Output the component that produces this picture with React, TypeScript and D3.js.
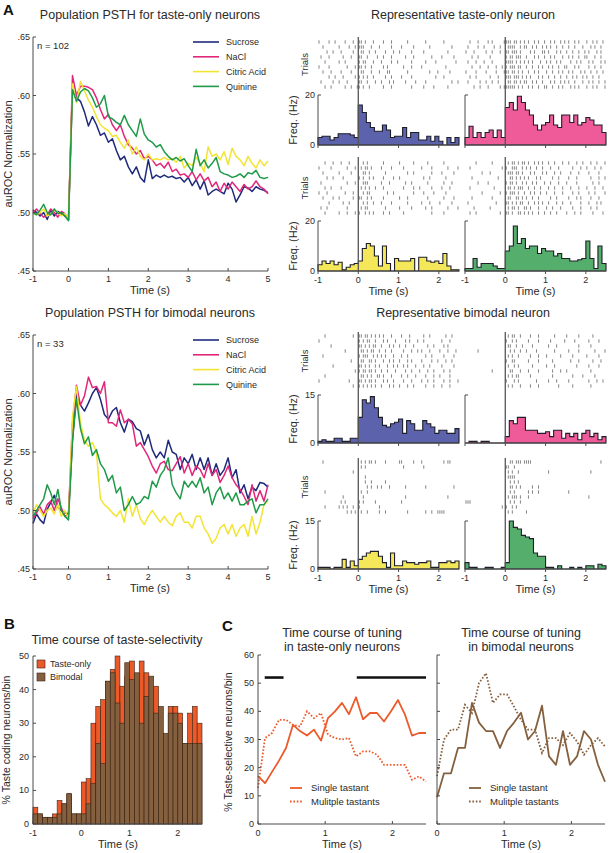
import React from 'react';
import * as d3 from 'd3';

const FONT = '"Liberation Sans", Arial, Helvetica, sans-serif';
const INK = '#2a2a2a';
const AXIS = '#4a4a4a';

// ---------------- Panel A: population PSTH (auROC), time -1..5 s, 0.1 s steps ----------------
const psthTimes = d3.range(61).map((i) => Math.round((-1 + i * 0.1) * 10) / 10);
const tastantNames = ['Sucrose', 'NaCl', 'Citric Acid', 'Quinine'];
const lineColors = ['#1F2A7C', '#E2277B', '#F2E432', '#1E9A48'];
const fillColors = ['#5C63AC', '#EE5B98', '#F4E85A', '#55AE6C'];

const tasteOnlySucrose = [
  .502, .500, .497, .500, .494, .502, .497, .501, .499, .497, .494,
  .606, .598, .595, .586, .574, .582, .575, .566, .568, .560,
  .563, .553, .545, .548, .539, .533, .539, .530, .526, .545,
  .529, .532, .530, .532, .530, .531, .529, .530, .526, .530,
  .523, .528, .520, .527, .515, .518, .520, .518, .516, .525,
  .520, .509, .515, .522, .521, .518, .522, .520, .519, .517];
const tasteOnlyNaCl = [
  .500, .503, .499, .496, .498, .503, .500, .496, .501, .499, .494,
  .617, .600, .608, .608, .607, .605, .598, .588, .580, .584,
  .575, .570, .575, .565, .558, .555, .550, .553, .546, .548,
  .545, .540, .542, .538, .543, .535, .537, .532, .533, .530,
  .535, .528, .533, .527, .530, .522, .526, .518, .525, .520,
  .526, .522, .518, .524, .520, .522, .527, .522, .520, .516];
const tasteOnlyCitric = [
  .499, .498, .500, .503, .497, .499, .502, .500, .497, .499, .495,
  .610, .594, .612, .604, .596, .590, .582, .575, .572, .570,
  .565, .566, .560, .555, .562, .550, .556, .548, .545, .550,
  .545, .546, .545, .547, .545, .546, .543, .548, .538, .542,
  .540, .547, .542, .535, .556, .548, .550, .545, .552, .541,
  .555, .548, .545, .540, .548, .542, .538, .545, .540, .544];
const tasteOnlyQuinine = [
  .500, .498, .502, .507, .500, .498, .503, .499, .500, .497, .493,
  .605, .595, .603, .606, .604, .598, .590, .593, .600, .582,
  .580, .577, .575, .583, .575, .570, .565, .580, .567, .562,
  .560, .556, .558, .552, .548, .545, .547, .544, .546, .540,
  .535, .554, .540, .545, .538, .542, .547, .535, .533, .532,
  .530, .531, .533, .530, .534, .533, .536, .530, .529, .530];

const bimodalSucrose = [
  .489, .497, .492, .489, .501, .507, .513, .503, .500, .498, .497,
  .560, .600, .590, .585, .592, .600, .605, .595, .582, .578,
  .585, .588, .575, .567, .578, .576, .570, .568, .556, .565,
  .552, .545, .550, .545, .560, .550, .548, .535, .545, .540,
  .548, .535, .545, .535, .545, .530, .540, .530, .535, .545,
  .528, .535, .515, .522, .510, .520, .517, .524, .523, .520];
const bimodalNaCl = [
  .493, .498, .503, .497, .505, .508, .500, .510, .502, .495, .497,
  .575, .607, .590, .598, .614, .605, .606, .600, .610, .575,
  .575, .572, .586, .575, .578, .574, .555, .558, .552, .546,
  .538, .532, .540, .542, .535, .534, .540, .546, .532, .540,
  .530, .538, .535, .528, .540, .530, .535, .524, .530, .538,
  .528, .522, .518, .512, .505, .522, .508, .517, .508, .522];
const bimodalCitric = [
  .498, .505, .500, .495, .500, .502, .497, .505, .495, .500, .493,
  .580, .606, .575, .560, .555, .558, .550, .510, .505, .502,
  .498, .495, .500, .490, .510, .495, .505, .493, .488, .495,
  .500, .495, .490, .495, .490, .487, .495, .498, .490, .490,
  .485, .495, .495, .485, .480, .472, .476, .485, .488, .480,
  .488, .478, .485, .488, .478, .495, .480, .490, .505, .508];
const bimodalQuinine = [
  .495, .500, .505, .510, .522, .515, .505, .518, .500, .495, .492,
  .560, .595, .570, .557, .563, .547, .552, .540, .535, .525,
  .530, .515, .520, .500, .505, .512, .505, .507, .512, .510,
  .525, .520, .530, .535, .545, .522, .515, .510, .525, .520,
  .525, .520, .528, .515, .520, .505, .515, .520, .510, .515,
  .508, .515, .505, .505, .508, .510, .498, .505, .505, .510];

// ---------------- Representative neurons: histograms (Hz), 0.1 s bins from -1 to 2.5 ----------------
const histEdges = d3.range(36).map((i) => Math.round((-1 + i * 0.1) * 10) / 10);
const tasteOnlyHistSucrose = [3, 3.5, 3.5, 2, 3, 4.5, 4.5, 4.5, 4, 3, 16, 13, 9, 7, 5.5, 5.5, 8, 6, 3, 3.5, 3.5, 7, 3, 5, 5, 2, 2, 3.5, 1.5, 3.5, 1.5, 0, 3, 1, 3];
const tasteOnlyHistNaCl = [3, 7.5, 3, 5, 3, 5, 6, 3, 6, 3, 15, 17, 14, 19.5, 17, 14, 12, 8, 6, 8, 9, 12, 8, 7, 12, 12, 9, 12, 8, 9, 11, 10, 8, 8, 5];
const tasteOnlyHistCitric = [2.5, 4, 3, 4, 2.5, 3.5, 0.5, 1.5, 2.5, 3, 4, 9, 11, 10, 6, 2, 10, 3, 0, 5, 4, 4, 4, 5, 0, 5.5, 5.5, 4, 3.5, 4, 3, 7, 2, 0.5, 0.5];
const tasteOnlyHistQuinine = [1, 1, 5, 1.5, 3, 3, 3, 2, 1, 1, 8, 10, 18, 11, 13, 9, 10, 10, 7, 9, 8, 8, 6, 7, 5, 5, 4, 4, 4.5, 5, 12, 5, 1, 10, 3];
const bimodalHistSucrose = [0.5, 1, 0.5, 0.5, 1.5, 1.5, 0.5, 0.5, 1.5, 1.5, 8, 13.5, 12.5, 14.5, 11, 8, 5.5, 5, 6, 6.5, 7.5, 3, 7, 6, 4, 4, 7, 6, 5, 3, 4, 4, 3, 3, 4.5];
const bimodalHistNaCl = [0, 0.5, 0.5, 0, 0.5, 0.5, 0, 0, 0, 0, 2, 7, 6, 8, 8, 4, 4, 4, 3, 3, 3.5, 2, 4, 4, 1.5, 3, 2, 3, 1, 3, 4, 2, 3, 1, 2];
const bimodalHistCitric = [0.5, 0.5, 0.5, 0, 0.5, 0.5, 3, 0.5, 2.5, 1, 3, 4, 5, 5.5, 5.5, 4, 2, 0.5, 5, 1, 1, 2.5, 2, 2, 1.5, 2, 2, 2.5, 0.5, 0.5, 2, 2, 2.5, 2, 2.5];
const bimodalHistQuinine = [2, 0.5, 0.5, 0, 0, 0.5, 0.5, 0, 0, 0.5, 2, 15, 13, 12.5, 10.5, 10, 9.5, 5, 4, 4, 0.5, 0.5, 0, 1, 0, 0, 0.5, 0, 0.5, 0, 1, 1, 0, 1.5, 1];

// Raster trials: one character per 50 ms from -1 to 2.5 s ('|' = spike)
const rasterTasteSucrose = [
  '|....|..|. ...|...|.. ||.|...|.. ..|...|... ....|..... ...|...... ..|.......',
  '..|....... |....|..|. |||...|... |.....|... .|.....|.. .....|.... ......|...',
  '....|..|.. .|.....|.. .||..|..|. ...|...|.. |.....|... ..|....... ....|.....',
  '.|...|.... ..|...|... ||..|....| ..|...|... ...|...|.. ......|... .|.....|..',
  '...|...... |..|...... |.||...|.. .|....|..| ......|... ...|....|. ........|.',
  '|....|.... ....|...|. ||.|..|... ..|.|..... ..|...|... .|........ ...|......',
  '..|...|... .|....|... .||...|... |...||.... ....|..... .....|...| .....|....',
  '.....|..|. ..|.....|. |.|.|..|.. ...|..|... .|....|... ........|. ..|.......',
  '.|.....|.. |...|..... ||..|...|. .|...|.|.. ...|....|. ...|...... ......|..|',
  '...|..|... ...|..|..| |.|..|.... ..|...|... ......|... ..|....|.. ....|.....',
];
const rasterTasteNaCl = [
  '..|...|... .|.|.....| |||.||.|.| .|..|.|..| ..|.|..|.| .|..|.|... |..|.|..|.',
  '.|....|..| ....|..|.. .||||..|.| |..|.|..|. |.|..|..|. .|..|...|. ..|.|..|..',
  '|...|..... |..|...|.. ||.|||.|.. ..|.|...|| .|...|.|.. |..|..|..| .|...|.|..',
  '...|..|... ..|....... |.||.|||.. |...|.|..| ..|.|...|. .|.|..|..| |...|..|..',
  '.|...|...| ...|...... ||||.|.|.| .|.|...|.. |.|..|.|.. ..|..|.|.. .|.|...|.|',
  '...|...|.. .|...|..|. |.|||.||.. |..|..|.|. .|.|..|..| |...|.|... .|..|..|..',
  '|....|.... |....|...| ||.||.|.|. .|..|.|... |..|..|.|. .|.|...|.| ..|..|..|.',
  '..|..|.... ..|...|... |||.|||.|. |.|...|.|. .|..|..|.. |..|.|..|. |..|..|...',
  '.|.....|.. |..|..|... .||.||.|.| |..|.|..|. ..|.|..|.| .|..|...|. .|.|..|..|',
  '....|..|.. .|.....|.| |||||.|.|. .|.|..|..| |..|..|.|. ..|.|.|... |..|.|...|',
];
const rasterTasteCitric = [
  '...|...|.. .|...|.... ..|.|..... ..|....... |......|.. ....|..... ..|.......',
  '|.....|... ....|...|. .|.||.|... .|....|... ..|....... .|....|... ....|....|',
  '..|....... |.....|... ..||.|.... ...|...... ....|..|.. ......|... .|.....|..',
  '....|..|.. ..|....... |.|..|.|.. ..|....|.. |......... ..|..|.... ...|......',
  '.|........ ....|...|. ..|||..... .|...|.... ...|..|... ....|..... ..|...|...',
  '...|..|... .|........ .|.|.|..|. ..|....... ..|....|.. |.....|... .|...|....',
  '|...|..... ...|...|.. ..|.||.... ....|..|.. .......|.. ..|....|.. ...|......',
  '..|....|.. |......|.. ||..|.|... ..|....... |...|..... ....|..... ..|....|..',
  '.....|.... ..|..|.... ..|.|..|.. .|....|... ....|..... .|...|.... |.....|...',
  '.|..|..... ....|..... .|.||..... ...|...... |.....|... ...|..|... ....|....|',
  '...|...... |...|...|. |..|.|.|.. ..|..|.... ..|....... ......|... ..|.......',
];
const rasterTasteQuinine = [
  '.....|.... ...|...... .|.||.|.|| .|..|.|.|. .|..|...|. .|...|..|. ..|..|...|',
  '..|....... ........|. |..|||..|. |.|..|..|. ..|...|... ...|...|.. |...|..|..',
  '........|. ..|....... .|||.||.|. ..|.|...|. |...|..|.. ..|...|... .|....|...',
  '...|...... ......|... ..||.|.|.| .|...|.|.. ...|..|... .|...|.... ..|...|..|',
  '......|... .|........ |.||.|..|. |..|.|...| ..|...|... |....|.... ...|..|...',
  '..|....... ....|..... .||.|.|||. .|..|..|.. .|..|...|. ..|...|... |...|...|.',
  '........|. .......|.. |.|||.|..| ..|.|..|.. |...|...|. ...|..|... .|..|....|',
  '...|...... ...|...... .||..||.|. |..|..|... ..|..|.... .|...|.|.. ..|...|...',
  '.|........ .....|.... ||.|.|.||. .|..|.|.|. .|...|..|. ..|....|.. .|...|.|..',
  '....|..... ..|....... .|.||.|..| |.|...|... |..|...|.. ...|...|.. ..|..|....',
  '..|..|.... .......|.. ||.|..||.| .|.|..|..| ..|..|.... |...|..|.. ...|....|.',
];
const rasterBimodalSucrose = [
  '...|...... .......|.. ||.||.|.|. |.|...|... .|...|.... ..|..|.... ...|..|...',
  '|......... .......... |.|.||..|. ..|.|...|. ...|.|...| ..|....... .|...|....',
  '......|... .......... ||.|.|.||. .|...|.|.. |..|...|.. ....|..|.. ..|.|.....',
  '.......... ...|...... .||.|.||.. |..|..|... ..|...|..| .|...|.... |...|...|.',
  '..|....... .......... |.|||..|.| .|.|...|.. .|..|..... ...|..|... ..|....|..',
  '.......... ......|... .||..||.|. ..|..|.|.. |...|.|... .|....|..| ...|..|...',
  '.......|.. .......... ||.|.|..|. |...|..|.| ..|.|...|. ..|..|.... .|.....|..',
  '.......... ........|. |.||.||.|. .|..|...|. ...|..|... |...|..|.. ..|..|....',
  '...|...... .......... .||.|.|..| |.|...|... .|..|...|. ...|...|.. |....|....',
  '|......... .....|.... ||.|.||.|. ..|.|..|.. ..|...|... .|..|..|.. ..|..|...|',
  '.......... .......|.. |.|.|.|.|. .|...|.|.. |...|..|.. ...|...|.. .|...|....',
];
const rasterBimodalNaCl = [
  '.......... .......... .|.||..|.. ..|...|... ....|..... |.....|... ...|......',
  '.......... .......... |..|.|.... .|....|... ..|......| ....|..... .|....|...',
  '.......... .......... .||..|..|. ...|...... .|...|.... ......|... ..|.......',
  '......|... .......... ..|.|..|.. |....|.... ....|..... .|....|... ....|....|',
  '.......... .......... .|.|..|... ..|...|... |......|.. ...|...... |.....|...',
  '.......... .......... |..||..... .|....|... ...|...... ..|...|... ...|...|..',
  '.......... .......... .|..|.|... ...|...... |...|..... .....|.... .|....|...',
  '.......... ...|...... ..||...|.. .|....|... ...|...|.. |......... ..|.......',
  '.......... .......... .|.|.||... ..|....... ...|...... ...|....|. ....|.....',
  '.......... .......... |...|.|... .....|.... .|...|.... .|........ .|...|..|.',
  '.......... .......... .|.|...|.. ..|...|... ......|... ...|...... ..|.......',
];
const rasterBimodalCitric = [
  '..|....... .......... .|.|.||.|. ...|...... ||.....|.. .|........ ..|.||....',
  '.......... .......... .|.|...... .......... ..|....... ..|....... ..........',
  '.......... .......|.. .......... .......... .......... .......... ..........',
  '.......... .......... ...|...... .......... .......... .......... ..........',
  '.......... .......... ...|..|... ...|...... .......... .......... ..........',
  '.......... .......... ....|.|..| .|...|.... ...|...... ...|...... .......|..',
  '...|...... .......... .|..|..... .......... .......... .......... ..........',
  '.......... ..|....... ..|....... .......... ...|...... .......... ....|.....',
  '.......... .|.|...... |.|.....|. .......... .|........ .......... ..........',
  '...|...... |.|.|..|.. |......... |......... .......... .......... ..........',
  '.......... ....|.|.|. .|..|..... |..|...... ....|..... ...|..|..| |||.......',
];
const rasterBimodalQuinine = [
  '.......... .......... ..||.|||.| |||....... .......... .......... .......|..',
  '.......... .......... ||..|..... .......... .......... .......... ..........',
  '.......... .......... .|.|..|... .......... .|........ .......... ..|.......',
  '.......... .......... .||||..... .......... .......... .......... ..........',
  '.......... .......... ..|.|.|... .......... .......... .......... ..........',
  '.......... .......... ..||.|.|.. ...|..|... .......... .......... ..........',
  '.......... .......... ..|.|..... .|.|..|... .......... .|........ ..........',
  '.......... .......... .|.|||.|.. .|........ .......... .......... .|........',
  '|||....... .......... ..|.|..|.. .......... .......... .......... ..........',
  '.......... ........|. |..|.|.... .......... .......... .......... ..........',
  '.......... .......... .|.|...... |......... .......... .......... ..........',
];

// ---------------- Panel B: % taste coding neurons per 0.1 s bin ----------------
const bBinStarts = d3.range(35).map((i) => Math.round((-1 + i * 0.1) * 10) / 10);
const bTasteOnly = [5, 3, 2, 2, 3, 7, 6, 9, 3, 3, 12.5, 13.5, 30, 35, 37, 42.5, 46, 50, 41, 44, 48.5, 43, 48.5, 45, 33, 41, 27, 18, 35, 35, 33, 24, 33, 35, 30];
const bBimodal = [3, 3, 2, 2, 2, 3, 6, 9, 3, 3, 3, 6, 12, 24, 18, 42.5, 45, 36, 30, 48, 43, 45, 30, 38, 44, 33, 35, 27, 33, 33, 30, 24, 24, 24, 24];

// ---------------- Panel C: % taste-selective neurons ----------------
const cTimes = d3.range(25).map((i) => (i * 2.5) / 24);
const cTasteSingle = [17, 14.5, 18.5, 22.5, 27, 35.2, 33, 31.4, 33.5, 29.6, 37.6, 40, 43, 39, 45, 37.2, 39.4, 39.4, 36.4, 40, 44, 38.8, 31.4, 32.3, 32.3];
const cTasteMultiple = [12.8, 30.5, 32.3, 37, 37, 35.2, 34.6, 40, 37.6, 39.4, 31.7, 30.5, 30, 30.5, 24, 25.8, 25.8, 24.6, 21, 21, 21, 21, 15.7, 16.9, 15.1];
const cBimodalSingle = [9.5, 18, 18, 27, 27, 43, 36, 33, 33, 27, 33, 36, 39.5, 30, 33, 42, 24, 21, 33, 21, 24, 33, 30, 21, 15];
const cBimodalMultiple = [17, 30, 33.5, 33.5, 42.3, 39.4, 50, 53.5, 43, 46, 46, 41.7, 37, 33.5, 33.5, 25.2, 30.5, 30.5, 28, 32.3, 29.3, 24.6, 28, 30.5, 27.5];
const cSignificantSpans = [[0.1, 0.38], [1.47, 2.5]];

const ORANGE = '#EC5A2A';
const BROWN = '#85603F';

// ================= components =================
function PsthPanel({ top, title, n, series }) {
  const x = d3.scaleLinear().domain([-1, 0, 5]).range([33, 68.5, 268]);
  const y = d3.scaleLinear().domain([0.45, 0.65]).range([top + 234, top]);
  const line = d3.line().x((_, i) => x(psthTimes[i])).y((d) => y(d));
  const yTicks = [0.45, 0.5, 0.55, 0.6, 0.65];
  const xTicks = [-1, 0, 1, 2, 3, 4, 5];
  const bottom = y(0.45);
  return (
    <g>
      <text x={150} y={top - 18} textAnchor="middle" fontSize={12.5} fill={INK}>{title}</text>
      {series.map((s, i) => (
        <path key={i} d={line(s)} fill="none" stroke={lineColors[i]} strokeWidth={1.5} strokeLinejoin="round" />
      ))}
      <line x1={33} x2={33} y1={top} y2={bottom} stroke={AXIS} strokeWidth={1} />
      <line x1={33} x2={268} y1={bottom} y2={bottom} stroke={AXIS} strokeWidth={1} />
      {yTicks.map((t) => (
        <g key={t}>
          <line x1={33} x2={36} y1={y(t)} y2={y(t)} stroke={AXIS} />
          <text x={30} y={y(t) + 3} textAnchor="end" fontSize={9} fill={INK}>{t.toFixed(2).replace(/^0/, '')}</text>
        </g>
      ))}
      {xTicks.map((t) => (
        <g key={t}>
          <line x1={x(t)} x2={x(t)} y1={bottom} y2={bottom - 3} stroke={AXIS} />
          <text x={x(t)} y={bottom + 11} textAnchor="middle" fontSize={9} fill={INK}>{t}</text>
        </g>
      ))}
      <text x={150} y={bottom + 23} textAnchor="middle" fontSize={11} fill={INK}>Time (s)</text>
      <text transform={`translate(12,${(top + bottom) / 2}) rotate(-90)`} textAnchor="middle" fontSize={11} fill={INK}>auROC Normalization</text>
      <text x={37} y={top + 12} fontSize={9.5} fill={INK}>{n}</text>
      {tastantNames.map((nm, i) => {
        const yy = top + 5 + i * 14.8;
        return (
          <g key={nm}>
            <line x1={193} x2={219} y1={yy} y2={yy} stroke={lineColors[i]} strokeWidth={1.6} />
            <text x={226} y={yy + 3.2} fontSize={9} fill={INK}>{nm}</text>
          </g>
        );
      })}
    </g>
  );
}

function RasterUnit({ x0, trials, firstRowY, lineTop, histTop, histBot, ymax, hist, fill, left, xLabels }) {
  const x = d3.scaleLinear().domain([-1, 2.5]).range([x0, x0 + 141]);
  const y = d3.scaleLinear().domain([0, ymax]).range([histBot, histTop]);
  const area = d3.area().curve(d3.curveStepAfter).x((_, i) => x(histEdges[i])).y0(y(0)).y1((d) => y(d));
  const data = [...hist, hist[hist.length - 1]];
  const spikes = [];
  trials.forEach((tr, j) => {
    tr.replace(/ /g, '').split('').forEach((c, k) => {
      if (c === '|') spikes.push({ t: -1 + k * 0.05 + 0.025, row: j });
    });
  });
  const rowY = (j) => firstRowY + j * 5;
  const rasterMid = (rowY(0) + rowY(trials.length - 1)) / 2;
  return (
    <g>
      {spikes.map((s, i) => (
        <line key={i} x1={x(s.t)} x2={x(s.t)} y1={rowY(s.row) - 1.7} y2={rowY(s.row) + 1.7} stroke="#666" strokeWidth={0.8} />
      ))}
      <path d={area(data)} fill={fill} stroke="#1e1e2a" strokeWidth={1.1} />
      <line x1={x(0)} x2={x(0)} y1={lineTop} y2={histBot} stroke="#555" strokeWidth={1.3} />
      <line x1={x0} x2={x0} y1={histTop} y2={histBot} stroke={AXIS} />
      <line x1={x0} x2={x0 + 3} y1={histTop} y2={histTop} stroke={AXIS} />
      <line x1={x(-1)} x2={x(2.5)} y1={histBot} y2={histBot} stroke={AXIS} />
      {[-1, 0, 1, 2].map((t) => (
        <g key={t}>
          <line x1={x(t)} x2={x(t)} y1={histBot} y2={histBot + 3} stroke={AXIS} />
          {xLabels && <text x={x(t)} y={histBot + 12} textAnchor="middle" fontSize={9} fill={INK}>{t}</text>}
        </g>
      ))}
      {xLabels && <text x={x(0.75)} y={histBot + 24} textAnchor="middle" fontSize={11} fill={INK}>Time (s)</text>}
      {left && (
        <g>
          <text x={x0 - 3} y={histTop + 3} textAnchor="end" fontSize={9} fill={INK}>{ymax}</text>
          <text x={x0 - 3} y={histBot + 3} textAnchor="end" fontSize={9} fill={INK}>0</text>
          <text transform={`translate(${x0 - 10},${rasterMid}) rotate(-90)`} textAnchor="middle" fontSize={9.5} fill={INK}>Trials</text>
          <text transform={`translate(${x0 - 21},${(histTop + histBot) / 2}) rotate(-90)`} textAnchor="middle" fontSize={11} fill={INK}>Freq. (Hz)</text>
        </g>
      )}
    </g>
  );
}

function RasterRow({ firstRowY, lineTop, histTop, histBot, ymax, leftTrials, rightTrials, leftHist, rightHist, leftFill, rightFill, xLabels }) {
  return (
    <g>
      <RasterUnit x0={318} trials={leftTrials} firstRowY={firstRowY} lineTop={lineTop} histTop={histTop} histBot={histBot} ymax={ymax} hist={leftHist} fill={leftFill} left={true} xLabels={xLabels} />
      <RasterUnit x0={465} trials={rightTrials} firstRowY={firstRowY} lineTop={lineTop} histTop={histTop} histBot={histBot} ymax={ymax} hist={rightHist} fill={rightFill} left={false} xLabels={xLabels} />
    </g>
  );
}

function PanelB() {
  const x = d3.scaleLinear().domain([-1, 2.5]).range([33, 202]);
  const y = d3.scaleLinear().domain([0, 50]).range([824, 656]);
  const w = x(-0.9) - x(-1);
  return (
    <g>
      <text x={4} y={629} fontSize={15} fontWeight="bold" fill="#111">B</text>
      <text x={117} y={644} textAnchor="middle" fontSize={12.5} fill={INK}>Time course of taste-selectivity</text>
      {bBinStarts.map((t, i) => (
        <rect key={'o' + i} x={x(t)} y={y(bTasteOnly[i])} width={w} height={y(0) - y(bTasteOnly[i])} fill={ORANGE} stroke="#3b2414" strokeWidth={0.6} />
      ))}
      {bBinStarts.map((t, i) => (
        <rect key={'b' + i} x={x(t)} y={y(bBimodal[i])} width={w} height={y(0) - y(bBimodal[i])} fill={BROWN} stroke="#3b2414" strokeWidth={0.6} />
      ))}
      <line x1={33} x2={33} y1={656} y2={824} stroke={AXIS} />
      <line x1={33} x2={202} y1={824} y2={824} stroke={AXIS} />
      {[0, 10, 20, 30, 40, 50].map((v) => (
        <g key={v}>
          <line x1={33} x2={36} y1={y(v)} y2={y(v)} stroke={AXIS} />
          <text x={29} y={y(v) + 3} textAnchor="end" fontSize={9} fill={INK}>{v}</text>
        </g>
      ))}
      {[-1, 0, 1, 2].map((t) => (
        <g key={t}>
          <line x1={x(t)} x2={x(t)} y1={824} y2={821} stroke={AXIS} />
          <text x={x(t)} y={836} textAnchor="middle" fontSize={9} fill={INK}>{t}</text>
        </g>
      ))}
      <text x={118} y={848} textAnchor="middle" fontSize={11} fill={INK}>Time (s)</text>
      <text transform="translate(10,740) rotate(-90)" textAnchor="middle" fontSize={10.5} fill={INK}>% Taste coding neurons/bin</text>
      <rect x={37} y={660} width={8} height={8} fill={ORANGE} stroke="#3b2414" strokeWidth={0.6} />
      <text x={50} y={667} fontSize={9} fill={INK}>Taste-only</text>
      <rect x={37} y={673} width={8} height={8} fill={BROWN} stroke="#3b2414" strokeWidth={0.6} />
      <text x={50} y={680} fontSize={9} fill={INK}>Bimodal</text>
    </g>
  );
}

function CPlot({ x0, x1, single, multiple, color, labels, titleLine2, spans }) {
  const x = d3.scaleLinear().domain([0, 2.5]).range([x0, x1]);
  const y = d3.scaleLinear().domain([0, 60]).range([824, 655]);
  const line = d3.line().x((_, i) => x(cTimes[i])).y((d) => y(d));
  const cx = (x0 + x1) / 2;
  return (
    <g>
      <text x={cx} y={637} textAnchor="middle" fontSize={12.5} fill={INK}>Time course of tuning</text>
      <text x={cx} y={651} textAnchor="middle" fontSize={12.5} fill={INK}>{titleLine2}</text>
      {spans.map((s, i) => (
        <line key={i} x1={x(s[0])} x2={x(s[1])} y1={y(52)} y2={y(52)} stroke="#111" strokeWidth={2.6} />
      ))}
      <path d={line(multiple)} fill="none" stroke={color} strokeWidth={1.8} strokeDasharray="1.6,1.8" />
      <path d={line(single)} fill="none" stroke={color} strokeWidth={1.8} strokeLinejoin="round" />
      <line x1={x0} x2={x0} y1={655} y2={824} stroke={AXIS} />
      <line x1={x0} x2={x1} y1={824} y2={824} stroke={AXIS} />
      {[0, 10, 20, 30, 40, 50, 60].map((v) => (
        <g key={v}>
          <line x1={x0} x2={x0 + 3} y1={y(v)} y2={y(v)} stroke={AXIS} />
          {labels && <text x={x0 - 4} y={y(v) + 3} textAnchor="end" fontSize={9} fill={INK}>{v}</text>}
        </g>
      ))}
      {[0, 1, 2].map((t) => (
        <g key={t}>
          <line x1={x(t)} x2={x(t)} y1={824} y2={821} stroke={AXIS} />
          <text x={x(t)} y={836} textAnchor="middle" fontSize={9} fill={INK}>{t}</text>
        </g>
      ))}
      <text x={cx} y={848} textAnchor="middle" fontSize={11} fill={INK}>Time (s)</text>
      <line x1={x0 + 32} x2={x0 + 44} y1={788} y2={788} stroke={color} strokeWidth={1.8} />
      <text x={x0 + 53} y={791} fontSize={9.5} fill={INK}>Single tastant</text>
      <line x1={x0 + 32} x2={x0 + 44} y1={801.5} y2={801.5} stroke={color} strokeWidth={1.8} strokeDasharray="1.6,1.8" />
      <text x={x0 + 53} y={804.5} fontSize={9.5} fill={INK}>Mulitple tastants</text>
    </g>
  );
}

export default function App() {
  return (
    <svg width={609} height={853} viewBox="0 0 609 853" style={{ position: 'absolute', left: 0, top: 0, background: '#fff', fontFamily: FONT }}>
      <rect width={609} height={853} fill="#fff" />
      <text x={3} y={15} fontSize={15} fontWeight="bold" fill="#111">A</text>
      <PsthPanel top={37} title="Population PSTH for taste-only neurons" n="n = 102"
        series={[tasteOnlySucrose, tasteOnlyNaCl, tasteOnlyCitric, tasteOnlyQuinine]} />
      <PsthPanel top={335} title="Population PSTH for bimodal neurons" n="n = 33"
        series={[bimodalSucrose, bimodalNaCl, bimodalCitric, bimodalQuinine]} />

      <text x={463} y={19} textAnchor="middle" fontSize={12.5} fill={INK}>Representative taste-only neuron</text>
      <RasterRow firstRowY={42} lineTop={37} histTop={95} histBot={145} ymax={20}
        leftTrials={rasterTasteSucrose} rightTrials={rasterTasteNaCl}
        leftHist={tasteOnlyHistSucrose} rightHist={tasteOnlyHistNaCl}
        leftFill={fillColors[0]} rightFill={fillColors[1]} xLabels={false} />
      <RasterRow firstRowY={163} lineTop={157} histTop={221} histBot={271} ymax={20}
        leftTrials={rasterTasteCitric} rightTrials={rasterTasteQuinine}
        leftHist={tasteOnlyHistCitric} rightHist={tasteOnlyHistQuinine}
        leftFill={fillColors[2]} rightFill={fillColors[3]} xLabels={true} />

      <text x={463} y={317} textAnchor="middle" fontSize={12.5} fill={INK}>Representative bimodal neuron</text>
      <RasterRow firstRowY={336} lineTop={332} histTop={395} histBot={443} ymax={15}
        leftTrials={rasterBimodalSucrose} rightTrials={rasterBimodalNaCl}
        leftHist={bimodalHistSucrose} rightHist={bimodalHistNaCl}
        leftFill={fillColors[0]} rightFill={fillColors[1]} xLabels={false} />
      <RasterRow firstRowY={462} lineTop={458} histTop={521} histBot={569} ymax={15}
        leftTrials={rasterBimodalCitric} rightTrials={rasterBimodalQuinine}
        leftHist={bimodalHistCitric} rightHist={bimodalHistQuinine}
        leftFill={fillColors[2]} rightFill={fillColors[3]} xLabels={true} />

      <PanelB />
      <text x={222} y={631} fontSize={15} fontWeight="bold" fill="#111">C</text>
      <CPlot x0={258} x1={426} single={cTasteSingle} multiple={cTasteMultiple} color={ORANGE} labels={true} titleLine2="in taste-only neurons" spans={cSignificantSpans} />
      <CPlot x0={437} x1={605} single={cBimodalSingle} multiple={cBimodalMultiple} color={BROWN} labels={false} titleLine2="in bimodal neurons" spans={[]} />
      <text transform="translate(232,742) rotate(-90)" textAnchor="middle" fontSize={10.5} fill={INK}>% Taste-selective neurons/bin</text>
    </svg>
  );
}
